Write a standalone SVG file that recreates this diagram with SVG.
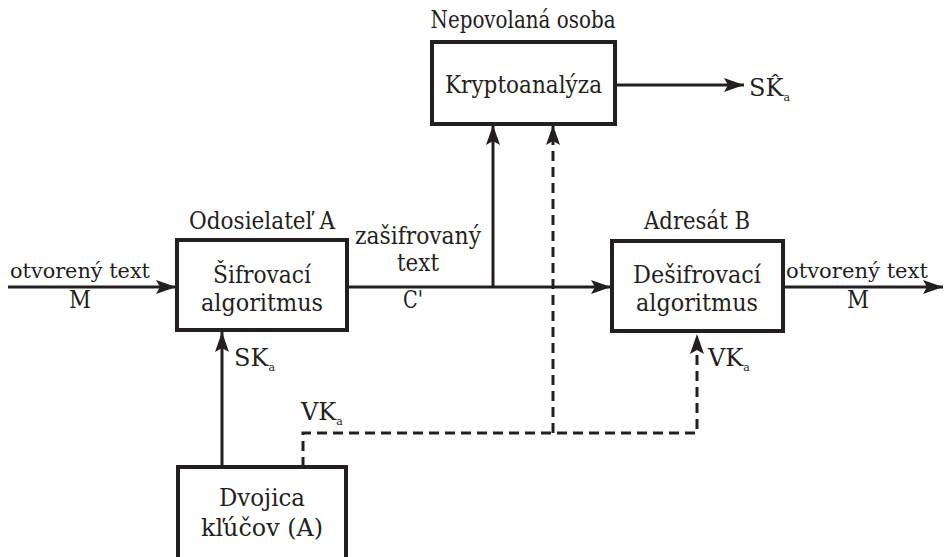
<svg xmlns="http://www.w3.org/2000/svg" width="944" height="557" viewBox="0 0 944 557">
  <defs>
    <marker id="arr" viewBox="0 0 20 14" refX="20" refY="7" markerWidth="20" markerHeight="14" markerUnits="userSpaceOnUse" orient="auto">
      <path d="M0,0 L20,7 L0,14 L4,7 Z" fill="#231f20"/>
    </marker>
  </defs>
  <style>
    .t { font-family: "DejaVu Serif", "Liberation Serif", serif; font-size: 24px; fill: #231f20; }
    .c { text-anchor: middle; }
    .sm { font-size: 21px; }
    .sub { font-size: 11px; }
    .box { fill: #fff; stroke: #231f20; stroke-width: 4; }
    .ln { fill: none; stroke: #231f20; stroke-width: 3; }
    .dash { stroke-dasharray: 10 6; }
  </style>
  <rect width="944" height="557" fill="#fff"/>

  <g id="connectors">
    <!-- plaintext in -->
    <line class="ln" x1="8" y1="287" x2="176" y2="287" marker-end="url(#arr)"/>
    <!-- ciphertext channel -->
    <line class="ln" x1="347" y1="287" x2="611" y2="287" marker-end="url(#arr)"/>
    <!-- tap to cryptanalysis -->
    <line class="ln" x1="493" y1="287" x2="493" y2="125" marker-end="url(#arr)"/>
    <!-- cryptanalysis result -->
    <line class="ln" x1="615" y1="85" x2="744" y2="85" marker-end="url(#arr)"/>
    <!-- plaintext out -->
    <line class="ln" x1="783" y1="287" x2="943" y2="287" marker-end="url(#arr)"/>
    <!-- private key -->
    <line class="ln" x1="222" y1="467" x2="222" y2="332" marker-end="url(#arr)"/>
    <!-- public key distribution -->
    <polyline class="ln dash" points="303,467 303,433 697,433 697,334" marker-end="url(#arr)"/>
    <line class="ln dash" x1="553" y1="433" x2="553" y2="125" marker-end="url(#arr)"/>
  </g>

  <g id="kryptoanalyza">
    <rect class="box" x="432" y="42" width="183" height="82"/>
    <text class="t c" x="523.5" y="93" textLength="157" lengthAdjust="spacingAndGlyphs">Kryptoanalýza</text>
    <text class="t c" x="523" y="28" textLength="185" lengthAdjust="spacingAndGlyphs">Nepovolaná osoba</text>
  </g>

  <g id="sifrovaci">
    <rect class="box" x="177" y="240" width="170" height="90"/>
    <text class="t c" x="262" y="283" textLength="98" lengthAdjust="spacingAndGlyphs">Šifrovací</text>
    <text class="t c" x="262" y="311" textLength="122" lengthAdjust="spacingAndGlyphs">algoritmus</text>
    <text class="t c" x="262" y="229" textLength="146" lengthAdjust="spacingAndGlyphs">Odosielateľ A</text>
  </g>

  <g id="desifrovaci">
    <rect class="box" x="612" y="241" width="171" height="90"/>
    <text class="t c" x="697" y="283" textLength="128" lengthAdjust="spacingAndGlyphs">Dešifrovací</text>
    <text class="t c" x="697" y="311" textLength="122" lengthAdjust="spacingAndGlyphs">algoritmus</text>
    <text class="t c" x="697" y="229" textLength="106" lengthAdjust="spacingAndGlyphs">Adresát B</text>
  </g>

  <g id="dvojica">
    <rect class="box" x="178" y="467" width="168" height="110"/>
    <text class="t c" x="262" y="506" textLength="86" lengthAdjust="spacingAndGlyphs">Dvojica</text>
    <text class="t c" x="262" y="536" textLength="122" lengthAdjust="spacingAndGlyphs">kľúčov (A)</text>
  </g>

  <g id="labels">
    <text class="t sm c" x="80" y="278" textLength="140" lengthAdjust="spacingAndGlyphs">otvorený text</text>
    <text class="t c" x="80" y="308" textLength="22" lengthAdjust="spacingAndGlyphs">M</text>
    <text class="t c" x="418" y="244" textLength="126" lengthAdjust="spacingAndGlyphs">zašifrovaný</text>
    <text class="t c" x="418" y="271" textLength="42" lengthAdjust="spacingAndGlyphs">text</text>
    <text class="t c" x="413" y="308" textLength="20" lengthAdjust="spacingAndGlyphs">C'</text>
    <text class="t sm" x="786" y="278" textLength="142" lengthAdjust="spacingAndGlyphs">otvorený text</text>
    <text class="t c" x="858" y="308" textLength="22" lengthAdjust="spacingAndGlyphs">M</text>
    <text class="t" x="234" y="366">SK<tspan class="sub" dy="5">a</tspan></text>
    <text class="t" x="301" y="420">VK<tspan class="sub" dy="5">a</tspan></text>
    <text class="t" x="708" y="366">VK<tspan class="sub" dy="5">a</tspan></text>
    <text class="t" x="749" y="96">SK̂<tspan class="sub" dy="5">a</tspan></text>
  </g>
</svg>
